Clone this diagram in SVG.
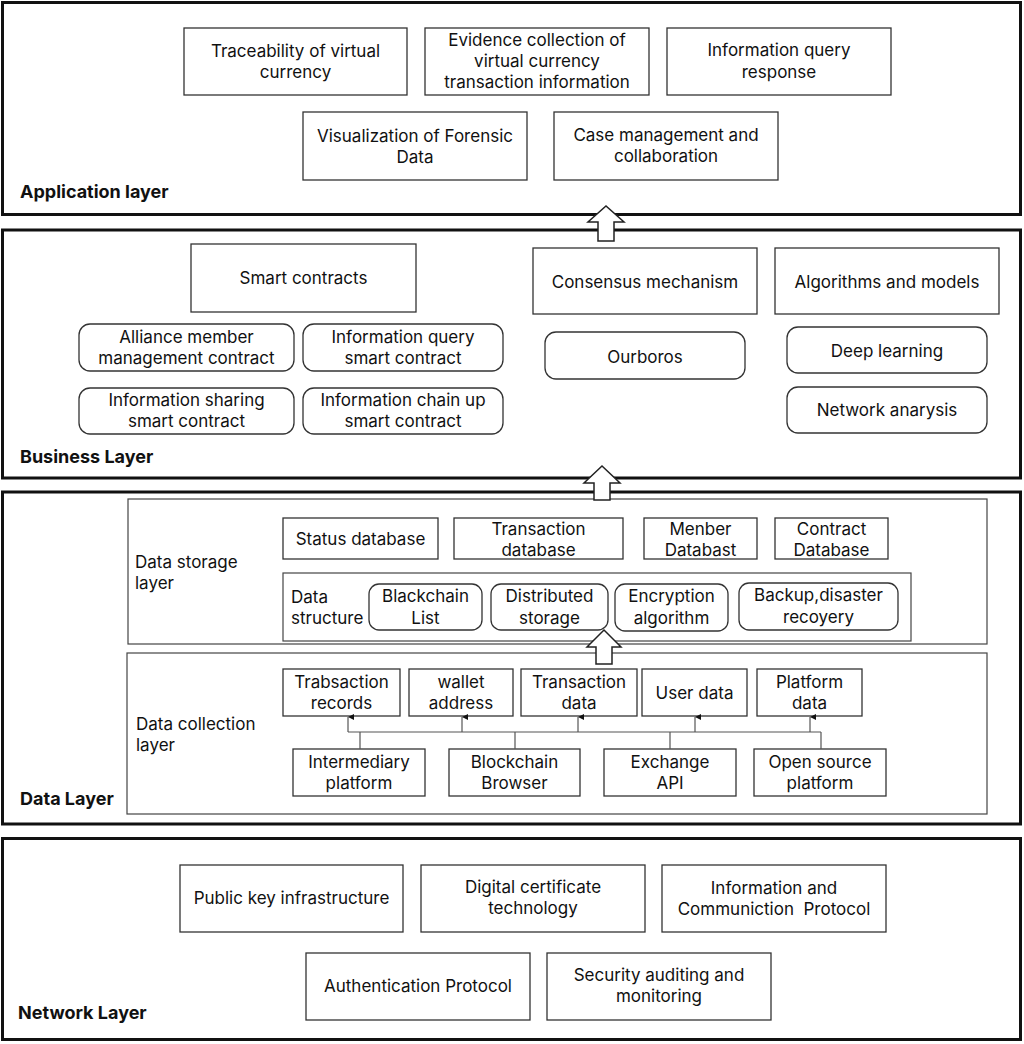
<svg xmlns="http://www.w3.org/2000/svg" width="1024" height="1044" viewBox="0 0 1024 1044">
<defs>
<style>
text{font-family:Inter,"Open Sans","DejaVu Sans",sans-serif;font-size:17px;fill:#111;text-anchor:middle}
.lbl{font-weight:bold;text-anchor:start;font-size:18px}
.lt{text-anchor:start}
.layer{fill:#fff;stroke:#111;stroke-width:3}
.box{fill:#fff;stroke:#333;stroke-width:1.3}
.sub{fill:#fff;stroke:#444;stroke-width:1.2}
.blk{fill:#fff;stroke:#222;stroke-width:1.5;stroke-linejoin:miter}
.con{stroke:#555;stroke-width:1.2;fill:none}
</style>
<marker id="ah" viewBox="0 0 6 6" refX="3" refY="0" markerWidth="6" markerHeight="6" markerUnits="userSpaceOnUse" orient="auto-start-reverse">
<path d="M0,6 L3,0 L6,6 Z" fill="#111"/>
</marker>
</defs>
<rect width="1024" height="1044" fill="#fff"/>
<g id="layers">
<g id="application-layer"><rect class="layer" x="2.5" y="2.5" width="1018" height="212"/><text class="lbl" x="20" y="198">Application layer</text></g>
<g id="business-layer"><rect class="layer" x="2.5" y="230" width="1018" height="248"/><text class="lbl" x="20" y="463">Business Layer</text></g>
<g id="data-layer"><rect class="layer" x="2.5" y="492" width="1018" height="332"/><text class="lbl" x="20" y="805">Data Layer</text></g>
<g id="network-layer"><rect class="layer" x="2.5" y="838.5" width="1018" height="201"/><text class="lbl" x="18" y="1019">Network Layer</text></g>
</g>
<g id="app-nodes">
<g id="traceability"><rect class="box" x="184" y="28" width="223" height="67"/><text x="295.5" y="57">Traceability of virtual</text><text x="295.5" y="78">currency</text></g>
<g id="evidence"><rect class="box" x="425" y="28" width="224" height="67"/><text x="537" y="46">Evidence collection of</text><text x="537" y="67">virtual currency</text><text x="537" y="88">transaction information</text></g>
<g id="query-response"><rect class="box" x="667" y="28" width="224" height="67"/><text x="779" y="56">Information query</text><text x="779" y="78">response</text></g>
<g id="visualization"><rect class="box" x="303" y="112" width="224" height="68"/><text x="415" y="142">Visualization of Forensic</text><text x="415" y="163">Data</text></g>
<g id="case-management"><rect class="box" x="554" y="112" width="224" height="68"/><text x="666" y="141">Case management and</text><text x="666" y="162">collaboration</text></g>
</g>
<g id="business-nodes">
<g id="smart-contracts"><rect class="box" x="191" y="244" width="225" height="68"/><text x="303.5" y="284">Smart contracts</text></g>
<g id="alliance"><rect class="box" x="79" y="324" width="215" height="47" rx="11"/><text x="186.5" y="343">Alliance member</text><text x="186.5" y="364">management contract</text></g>
<g id="query-sc"><rect class="box" x="303" y="324" width="200" height="47" rx="11"/><text x="403" y="343">Information query</text><text x="403" y="364">smart contract</text></g>
<g id="sharing-sc"><rect class="box" x="79" y="388" width="215" height="46" rx="11"/><text x="186.5" y="406">Information sharing</text><text x="186.5" y="427">smart contract</text></g>
<g id="chainup-sc"><rect class="box" x="303" y="388" width="200" height="46" rx="11"/><text x="403" y="406">Information chain up</text><text x="403" y="427">smart contract</text></g>
<g id="consensus"><rect class="box" x="533" y="248" width="224" height="66"/><text x="645" y="288">Consensus mechanism</text></g>
<g id="algorithms"><rect class="box" x="775" y="248" width="224" height="66"/><text x="887" y="288">Algorithms and models</text></g>
<g id="ourboros"><rect class="box" x="545" y="332" width="200" height="47" rx="11"/><text x="645" y="363">Ourboros</text></g>
<g id="deep-learning"><rect class="box" x="787" y="327" width="200" height="46" rx="11"/><text x="887" y="357">Deep learning</text></g>
<g id="network-analysis"><rect class="box" x="787" y="387" width="200" height="46" rx="11"/><text x="887" y="416">Network anarysis</text></g>
</g>
<g id="data-nodes">
<g id="data-storage-layer"><rect class="sub" x="128" y="499" width="859" height="145"/><text class="lt" x="135" y="568">Data storage</text><text class="lt" x="135" y="589">layer</text></g>
<g id="status-db"><rect class="box" x="283" y="518" width="155" height="41"/><text x="360.5" y="545">Status database</text></g>
<g id="transaction-db"><rect class="box" x="454" y="518" width="169" height="41"/><text x="538.5" y="535">Transaction</text><text x="538.5" y="556">database</text></g>
<g id="member-db"><rect class="box" x="644" y="518" width="113" height="41"/><text x="700.5" y="535">Menber</text><text x="700.5" y="556">Databast</text></g>
<g id="contract-db"><rect class="box" x="775" y="518" width="113" height="41"/><text x="831.5" y="535">Contract</text><text x="831.5" y="556">Database</text></g>
<g id="data-structure"><rect class="sub" x="283" y="573" width="628" height="68"/><text class="lt" x="291" y="603">Data</text><text class="lt" x="291" y="624">structure</text></g>
<g id="blackchain-list"><rect class="box" x="369" y="584" width="113" height="46" rx="10"/><text x="425.5" y="602">Blackchain</text><text x="425.5" y="624">List</text></g>
<g id="distributed-storage"><rect class="box" x="491" y="584" width="117" height="46" rx="10"/><text x="549.5" y="602">Distributed</text><text x="549.5" y="624">storage</text></g>
<g id="encryption"><rect class="box" x="615" y="584" width="113" height="47" rx="10"/><text x="671.5" y="602">Encryption</text><text x="671.5" y="624">algorithm</text></g>
<g id="backup"><rect class="box" x="739" y="583" width="159" height="47" rx="10"/><text x="818.5" y="601">Backup,disaster</text><text x="818.5" y="623">recoyery</text></g>
<g id="data-collection-layer"><rect class="sub" x="127" y="653" width="860" height="161"/><text class="lt" x="136" y="730">Data collection</text><text class="lt" x="136" y="751">layer</text></g>
<g id="trabsaction-records"><rect class="box" x="283" y="669" width="117" height="47"/><text x="341.5" y="688">Trabsaction</text><text x="341.5" y="709">records</text></g>
<g id="wallet-address"><rect class="box" x="409" y="669" width="104" height="47"/><text x="461" y="688">wallet</text><text x="461" y="709">address</text></g>
<g id="transaction-data"><rect class="box" x="521" y="669" width="116" height="47"/><text x="579" y="688">Transaction</text><text x="579" y="709">data</text></g>
<g id="user-data"><rect class="box" x="642" y="669" width="105" height="47"/><text x="694.5" y="699">User data</text></g>
<g id="platform-data"><rect class="box" x="757" y="669" width="105" height="47"/><text x="809.5" y="688">Platform</text><text x="809.5" y="709">data</text></g>
<g id="intermediary"><rect class="box" x="293" y="749" width="132" height="47"/><text x="359" y="768">Intermediary</text><text x="359" y="789">platform</text></g>
<g id="blockchain-browser"><rect class="box" x="449" y="749" width="131" height="47"/><text x="514.5" y="768">Blockchain</text><text x="514.5" y="789">Browser</text></g>
<g id="exchange-api"><rect class="box" x="604" y="749" width="132" height="47"/><text x="670" y="768">Exchange</text><text x="670" y="789">API</text></g>
<g id="open-source"><rect class="box" x="754" y="749" width="132" height="47"/><text x="820" y="768">Open source</text><text x="820" y="789">platform</text></g>
</g>
<g id="network-nodes">
<g id="pki"><rect class="box" x="180" y="865" width="223" height="67"/><text x="291.5" y="904">Public key infrastructure</text></g>
<g id="digital-cert"><rect class="box" x="421" y="865" width="224" height="67"/><text x="533" y="893">Digital certificate</text><text x="533" y="914">technology</text></g>
<g id="info-comm"><rect class="box" x="662" y="865" width="224" height="67"/><text x="774" y="894">Information and</text><text x="774" y="915" style="white-space:pre">Communiction  Protocol</text></g>
<g id="authentication"><rect class="box" x="306" y="953" width="224" height="67"/><text x="418" y="992">Authentication Protocol</text></g>
<g id="security"><rect class="box" x="547" y="953" width="224" height="67"/><text x="659" y="981">Security auditing and</text><text x="659" y="1002">monitoring</text></g>
</g>
<g id="connectors">
<polygon class="blk" points="598,241 598,222 588,222 606,206 624,222 614,222 614,241"/>
<polygon class="blk" points="594,500 594,483 584,483 602,466 620,483 610,483 610,500"/>
<polygon class="blk" points="596,664 596,647 587,647 604,630 621,647 612,647 612,664"/>
<path class="con" d="M360,749 V732 M515,749 V732 M670,749 V732 M821,749 V732 M348,732 H821"/>
<line class="con" x1="348" y1="732" x2="348" y2="717" marker-end="url(#ah)"/>
<line class="con" x1="462" y1="732" x2="462" y2="717" marker-end="url(#ah)"/>
<line class="con" x1="578" y1="732" x2="578" y2="717" marker-end="url(#ah)"/>
<line class="con" x1="695" y1="732" x2="695" y2="717" marker-end="url(#ah)"/>
<line class="con" x1="810" y1="732" x2="810" y2="717" marker-end="url(#ah)"/>
</g>
</svg>
